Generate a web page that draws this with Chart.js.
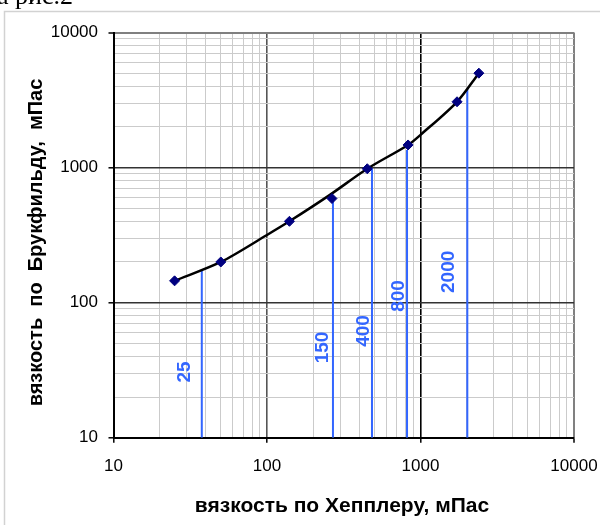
<!DOCTYPE html>
<html>
<head>
<meta charset="utf-8">
<script src="https://cdn.jsdelivr.net/npm/chart.js@4.4.0/dist/chart.umd.min.js"></script>
<style>
  html, body { margin: 0; padding: 0; background: #fff; overflow: hidden; }
  #wrap { position: relative; width: 600px; height: 525px; }
  #caption {
    position: absolute; left: -3px; top: -17px;
    font: 26px "Liberation Serif", "Times New Roman", serif;
    line-height: 26px; white-space: nowrap; color: #000;
  }
</style>
</head>
<body>
<div id="wrap">
  <canvas id="container" width="600" height="525"></canvas>
  <div id="caption">а рис.2</div>
</div>
<script>
// измерения: вязкость по Хепплеру (x) и по Брукфильду (y)
var hepplerVisc = [25, 50, 140, 265, 450, 830, 1730, 2400]
var brookfieldVisc = [145, 200, 400, 590, 980, 1470, 3070, 5000]

// сглаженная кривая через измерения
var curveX = [25, 50, 100, 140, 257, 450, 830, 1000, 1730, 2400]
var curveY = [145, 200, 317, 400, 628, 980, 1470, 1746, 3070, 5000]

// вертикальные отметки
var markX = [37.6, 269, 483, 817, 2018]
var markTop = [173, 590, 990, 1350, 3830]
var markNames = ["25", "150", "400", "800", "2000"]

// где стоят подписи отметок (в единицах осей)
var nameX = [29.1, 232, 430, 725, 1520]
var nameY = [30.7, 46.6, 61.7, 112, 169]

var decades = [10, 100, 1000, 10000]

var xTitle = "вязкость по Хепплеру, мПас"
var yTitle = "вязкость  по  Брукфильду,  мПас"

var fontFamily = '"Liberation Sans", Arial, sans-serif'
var blue = "#3366ff"

function buildLogTicks() {
  var ticks = []
  for (var i = 0; i < decades.length - 1; i++) {
    for (var k = 1; k < 10; k++) {
      ticks.push({ value: decades[i] * k })
    }
  }
  ticks.push({ value: decades[decades.length - 1] })
  return ticks
}

function isDecade(v) {
  return decades.indexOf(v) !== -1
}

function toPoints(xs, ys) {
  var pts = []
  for (var i = 0; i < xs.length; i++) {
    pts.push({ x: xs[i], y: ys[i] })
  }
  return pts
}

function markDatasets() {
  var sets = []
  for (var i = 0; i < markX.length; i++) {
    sets.push({
      data: [{ x: markX[i], y: 10 }, { x: markX[i], y: markTop[i] }],
      showLine: true,
      borderColor: blue,
      borderWidth: 2,
      pointRadius: 0,
      order: 3
    })
  }
  return sets
}

// рамка области диаграммы
var framePlugin = {
  id: "frame",
  beforeDraw: function(chart) {
    var ctx = chart.ctx
    ctx.save()
    ctx.fillStyle = "#fff"
    ctx.fillRect(0, 0, chart.width, chart.height)
    ctx.strokeStyle = "#d2d2d2"
    ctx.lineWidth = 1.5
    ctx.beginPath()
    ctx.moveTo(4.5, chart.height)
    ctx.lineTo(4.5, 11.5)
    ctx.lineTo(chart.width, 11.5)
    ctx.stroke()
    ctx.restore()
  }
}

// подписи осей и отметок
var labelsPlugin = {
  id: "labels",
  afterDraw: function(chart) {
    var ctx = chart.ctx
    var xs = chart.scales.x
    var ys = chart.scales.y
    ctx.save()
    ctx.textAlign = "center"
    ctx.textBaseline = "middle"

    ctx.fillStyle = "#000"
    ctx.font = "bold 21px " + fontFamily
    ctx.fillText(xTitle, 342, 506)

    ctx.save()
    ctx.translate(36, 242.5)
    ctx.rotate(-Math.PI / 2)
    ctx.font = "bold 20px " + fontFamily
    ctx.fillText(yTitle, 0, 0)
    ctx.restore()

    ctx.fillStyle = blue
    ctx.font = "bold 19px " + fontFamily
    for (var i = 0; i < markNames.length; i++) {
      ctx.save()
      ctx.translate(xs.getPixelForValue(nameX[i]), ys.getPixelForValue(nameY[i]))
      ctx.rotate(-Math.PI / 2)
      ctx.fillText(markNames[i], 0, 0)
      ctx.restore()
    }
    ctx.restore()
  }
}

function xGridColor(c) {
  var v = c.tick.value
  if (v === 10000) return "#808080"
  if (v === 100) return "#555"
  if (v === 1000 || v === 10) return "#000"
  return "#cbcbcb"
}

function yGridColor(c) {
  var v = c.tick.value
  if (v === 10000) return "#808080"
  if (v === 100 || v === 1000) return "#333"
  if (v === 10) return "#000"
  return "#cbcbcb"
}

function gridWidth(c) {
  var v = c.tick.value
  if (v === 10000) return 2
  if (isDecade(v)) return 1.6
  return 1
}

function tickColor(c) {
  return isDecade(c.tick.value) ? "#000" : "rgba(0,0,0,0)"
}

function renderChart() {
  var datasets = markDatasets()
  datasets.push({
    data: toPoints(curveX, curveY),
    showLine: true,
    borderColor: "#000",
    borderWidth: 2.5,
    tension: 0.3,
    pointRadius: 0,
    order: 2
  })
  datasets.push({
    data: toPoints(hepplerVisc, brookfieldVisc),
    showLine: false,
    pointStyle: "rectRot",
    pointRadius: 5,
    pointBackgroundColor: "#000080",
    pointBorderColor: "#000080",
    order: 0
  })

  var container = document.getElementById("container")
  new Chart(container, {
    type: "scatter",
    data: { datasets: datasets },
    plugins: [framePlugin, labelsPlugin],
    options: {
      responsive: false,
      animation: false,
      layout: { padding: { left: 0, top: 32.5, right: 26, bottom: 0 } },
      plugins: { legend: { display: false }, tooltip: { enabled: false } },
      scales: {
        x: {
          type: "logarithmic",
          position: "bottom",
          min: 10,
          max: 10000,
          afterBuildTicks: function(scale) { scale.ticks = buildLogTicks() },
          afterFit: function(scale) {
            scale.height = 87.3
            scale.paddingRight = 0
          },
          ticks: {
            autoSkip: false,
            maxRotation: 0,
            padding: 13,
            color: "#000",
            font: { family: fontFamily, size: 17 },
            callback: function(v) { return isDecade(v) ? String(v) : "" }
          },
          grid: {
            color: xGridColor,
            lineWidth: gridWidth,
            tickColor: tickColor,
            tickWidth: 1.5,
            tickLength: 5
          },
          border: { color: "#000", width: 2 }
        },
        y: {
          type: "logarithmic",
          position: "left",
          min: 10,
          max: 10000,
          afterBuildTicks: function(scale) { scale.ticks = buildLogTicks() },
          afterFit: function(scale) { scale.width = 113.5 },
          ticks: {
            autoSkip: false,
            padding: 10.5,
            color: "#000",
            font: { family: fontFamily, size: 17 },
            callback: function(v) { return isDecade(v) ? String(v) : "" }
          },
          grid: {
            color: yGridColor,
            lineWidth: gridWidth,
            tickColor: tickColor,
            tickWidth: 1.5,
            tickLength: 5
          },
          border: { color: "#000", width: 2 }
        }
      }
    }
  })
}

renderChart()
</script>
</body>
</html>
